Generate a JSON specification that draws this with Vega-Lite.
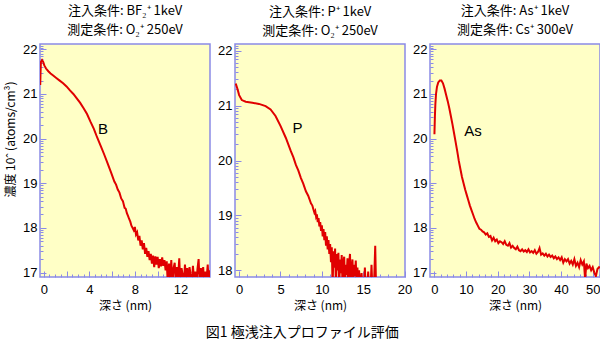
{
  "$schema": "https://vega.github.io/schema/vega-lite/v6.json",
  "background": "white",
  "padding": {"left": 3, "top": 4, "right": 2, "bottom": 6},
  "spacing": 25,
  "bounds": "flush",
  "title": {"text": "図1 極浅注入プロファイル評価", "orient": "bottom", "anchor": "middle", "font": "Noto Sans CJK JP", "fontSize": 14, "fontWeight": "normal", "color": "black", "offset": 14},
  "config": {
    "view": {"stroke": "#8a8ae6", "strokeWidth": 1.5, "fill": "#ffffc6"},
    "axis": {"domain": false, "grid": false, "labelFont": "Liberation Sans", "labelFontSize": 13, "labelColor": "black", "tickColor": "#8a8ae6", "tickWidth": 1, "titleFont": "Noto Sans CJK JP", "titleFontSize": 12, "titleFontWeight": "normal", "titleColor": "black", "labelFlush": false, "labelOverlap": false, "labelBound": false},
    "title": {"font": "Noto Sans CJK JP", "fontSize": 13, "fontWeight": "normal", "color": "black"}
  },
  "datasets": {
    "b": [
      {"x": -0.31, "y": 21.2}, {"x": -0.28, "y": 21.5}, {"x": -0.25, "y": 21.72}, {"x": -0.15, "y": 21.76}, {"x": -0.05, "y": 21.72}, {"x": 0.05, "y": 21.64}, {"x": 0.2, "y": 21.57}, {"x": 0.4, "y": 21.51}, {"x": 0.6, "y": 21.46}, {"x": 0.8, "y": 21.42}, {"x": 1.1, "y": 21.36}, {"x": 1.4, "y": 21.3}, {"x": 1.7, "y": 21.24}, {"x": 2.0, "y": 21.17}, {"x": 2.3, "y": 21.08}, {"x": 2.6, "y": 21.0}, {"x": 2.9, "y": 20.9}, {"x": 3.2, "y": 20.8}, {"x": 3.5, "y": 20.68}, {"x": 3.8, "y": 20.55}, {"x": 4.1, "y": 20.38}, {"x": 4.4, "y": 20.22}, {"x": 4.7, "y": 20.02}, {"x": 5.0, "y": 19.84}, {"x": 5.3, "y": 19.65}, {"x": 5.6, "y": 19.45}, {"x": 5.9, "y": 19.25}, {"x": 6.2, "y": 19.04}, {"x": 6.35, "y": 18.97}, {"x": 6.5, "y": 18.86}, {"x": 6.65, "y": 18.79}, {"x": 6.8, "y": 18.66}, {"x": 6.95, "y": 18.6}, {"x": 7.1, "y": 18.45}, {"x": 7.2, "y": 18.43}, {"x": 7.3, "y": 18.33}, {"x": 7.4, "y": 18.27}, {"x": 7.5, "y": 18.2}, {"x": 7.6, "y": 18.14}, {"x": 7.7, "y": 18.05}, {"x": 7.8, "y": 18.0}, {"x": 7.9, "y": 17.95}, {"x": 8.0, "y": 18.02}, {"x": 8.1, "y": 17.85}, {"x": 8.2, "y": 17.9}, {"x": 8.3, "y": 17.72}, {"x": 8.4, "y": 17.82}, {"x": 8.5, "y": 17.6}, {"x": 8.6, "y": 17.72}, {"x": 8.7, "y": 17.52}, {"x": 8.8, "y": 17.66}, {"x": 8.9, "y": 17.42}, {"x": 9.0, "y": 17.55}, {"x": 9.1, "y": 17.35}, {"x": 9.2, "y": 17.48}, {"x": 9.3, "y": 17.28}, {"x": 9.4, "y": 17.42}, {"x": 9.5, "y": 17.2}, {"x": 9.6, "y": 17.38}, {"x": 9.7, "y": 17.12}, {"x": 9.8, "y": 17.36}, {"x": 9.9, "y": 17.18}, {"x": 10.0, "y": 17.35}, {"x": 10.1, "y": 17.1}, {"x": 10.2, "y": 17.3}, {"x": 10.3, "y": 17.14}, {"x": 10.4, "y": 17.34}, {"x": 10.5, "y": 17.15}, {"x": 10.6, "y": 17.28}, {"x": 10.7, "y": 17.05}, {"x": 10.8, "y": 17.25}, {"x": 10.9, "y": 16.7}, {"x": 11.0, "y": 17.2}, {"x": 11.1, "y": 16.85}, {"x": 11.2, "y": 17.28}, {"x": 11.3, "y": 16.7}, {"x": 11.4, "y": 17.1}, {"x": 11.5, "y": 17.22}, {"x": 11.6, "y": 16.75}, {"x": 11.7, "y": 17.12}, {"x": 11.8, "y": 16.9}, {"x": 11.9, "y": 17.32}, {"x": 12.0, "y": 16.7}, {"x": 12.1, "y": 17.1}, {"x": 12.2, "y": 16.95}, {"x": 12.3, "y": 16.7}, {"x": 12.4, "y": 17.18}, {"x": 12.5, "y": 16.85}, {"x": 12.6, "y": 17.1}, {"x": 12.7, "y": 16.7}, {"x": 12.8, "y": 17.12}, {"x": 12.9, "y": 16.95}, {"x": 13.0, "y": 16.7}, {"x": 13.1, "y": 17.15}, {"x": 13.2, "y": 16.85}, {"x": 13.3, "y": 17.02}, {"x": 13.4, "y": 16.7}, {"x": 13.5, "y": 17.08}, {"x": 13.6, "y": 17.3}, {"x": 13.7, "y": 16.7}, {"x": 13.8, "y": 17.1}, {"x": 13.9, "y": 16.88}, {"x": 14.0, "y": 17.12}, {"x": 14.1, "y": 16.7}, {"x": 14.2, "y": 17.02}, {"x": 14.3, "y": 16.85}, {"x": 14.4, "y": 17.18}, {"x": 14.5, "y": 16.7}, {"x": 14.6, "y": 17.05}
    ],
    "p": [
      {"x": -0.41, "y": 21.4}, {"x": -0.2, "y": 21.3}, {"x": 0.0, "y": 21.19}, {"x": 0.32, "y": 21.1}, {"x": 0.8, "y": 21.07}, {"x": 1.6, "y": 21.05}, {"x": 2.4, "y": 21.03}, {"x": 3.2, "y": 20.99}, {"x": 3.8, "y": 20.93}, {"x": 4.4, "y": 20.81}, {"x": 5.0, "y": 20.63}, {"x": 5.65, "y": 20.41}, {"x": 6.25, "y": 20.17}, {"x": 6.55, "y": 20.06}, {"x": 6.86, "y": 19.92}, {"x": 7.15, "y": 19.82}, {"x": 7.47, "y": 19.68}, {"x": 7.75, "y": 19.58}, {"x": 8.07, "y": 19.44}, {"x": 8.35, "y": 19.36}, {"x": 8.68, "y": 19.22}, {"x": 8.85, "y": 19.18}, {"x": 9.0, "y": 19.1}, {"x": 9.1, "y": 19.05}, {"x": 9.2, "y": 19.08}, {"x": 9.3, "y": 18.98}, {"x": 9.4, "y": 19.02}, {"x": 9.5, "y": 18.88}, {"x": 9.6, "y": 18.95}, {"x": 9.7, "y": 18.8}, {"x": 9.8, "y": 18.88}, {"x": 9.9, "y": 18.72}, {"x": 10.0, "y": 18.82}, {"x": 10.1, "y": 18.62}, {"x": 10.2, "y": 18.75}, {"x": 10.3, "y": 18.55}, {"x": 10.4, "y": 18.7}, {"x": 10.5, "y": 18.45}, {"x": 10.6, "y": 18.62}, {"x": 10.7, "y": 18.38}, {"x": 10.8, "y": 18.55}, {"x": 10.9, "y": 18.3}, {"x": 11.0, "y": 18.48}, {"x": 11.1, "y": 18.15}, {"x": 11.2, "y": 18.42}, {"x": 11.3, "y": 17.7}, {"x": 11.4, "y": 18.35}, {"x": 11.5, "y": 18.05}, {"x": 11.6, "y": 18.4}, {"x": 11.7, "y": 17.7}, {"x": 11.8, "y": 18.3}, {"x": 11.9, "y": 18.0}, {"x": 12.0, "y": 18.32}, {"x": 12.1, "y": 17.7}, {"x": 12.2, "y": 18.2}, {"x": 12.3, "y": 17.95}, {"x": 12.4, "y": 18.28}, {"x": 12.5, "y": 17.7}, {"x": 12.6, "y": 18.15}, {"x": 12.7, "y": 18.25}, {"x": 12.8, "y": 17.7}, {"x": 12.9, "y": 18.1}, {"x": 13.0, "y": 17.92}, {"x": 13.1, "y": 18.22}, {"x": 13.2, "y": 17.7}, {"x": 13.3, "y": 18.12}, {"x": 13.4, "y": 18.3}, {"x": 13.5, "y": 17.7}, {"x": 13.6, "y": 18.05}, {"x": 13.7, "y": 18.2}, {"x": 13.8, "y": 17.7}, {"x": 13.9, "y": 18.1}, {"x": 14.0, "y": 17.9}, {"x": 14.1, "y": 18.18}, {"x": 14.2, "y": 17.7}, {"x": 14.3, "y": 18.05}, {"x": 14.4, "y": 17.7}, {"x": 14.5, "y": 18.0}, {"x": 14.6, "y": 17.7}, {"x": 14.8, "y": 17.95}, {"x": 14.9, "y": 17.7}, {"x": 15.1, "y": 17.7}, {"x": 15.2, "y": 18.05}, {"x": 15.3, "y": 17.7}, {"x": 15.5, "y": 17.7}, {"x": 15.6, "y": 17.98}, {"x": 15.7, "y": 17.7}, {"x": 15.9, "y": 17.7}, {"x": 16.0, "y": 18.1}, {"x": 16.1, "y": 17.7}, {"x": 16.3, "y": 17.7}, {"x": 16.45, "y": 18.45}, {"x": 16.55, "y": 17.7}
    ],
    "as": [
      {"x": 0.0, "y": 20.1}, {"x": 0.15, "y": 20.5}, {"x": 0.3, "y": 20.78}, {"x": 0.5, "y": 21.0}, {"x": 0.8, "y": 21.16}, {"x": 1.2, "y": 21.26}, {"x": 1.7, "y": 21.3}, {"x": 2.2, "y": 21.3}, {"x": 2.7, "y": 21.24}, {"x": 3.2, "y": 21.12}, {"x": 3.7, "y": 20.98}, {"x": 4.2, "y": 20.84}, {"x": 4.7, "y": 20.68}, {"x": 5.2, "y": 20.5}, {"x": 5.7, "y": 20.32}, {"x": 6.2, "y": 20.12}, {"x": 6.7, "y": 19.92}, {"x": 7.2, "y": 19.72}, {"x": 7.7, "y": 19.5}, {"x": 8.2, "y": 19.32}, {"x": 8.7, "y": 19.14}, {"x": 9.2, "y": 19.0}, {"x": 9.7, "y": 18.86}, {"x": 10.2, "y": 18.74}, {"x": 10.7, "y": 18.62}, {"x": 11.2, "y": 18.5}, {"x": 11.7, "y": 18.4}, {"x": 12.2, "y": 18.3}, {"x": 12.7, "y": 18.2}, {"x": 13.2, "y": 18.12}, {"x": 13.7, "y": 18.05}, {"x": 14.2, "y": 17.98}, {"x": 14.7, "y": 17.96}, {"x": 15.2, "y": 17.92}, {"x": 15.7, "y": 17.9}, {"x": 16.2, "y": 17.85}, {"x": 16.7, "y": 17.88}, {"x": 17.2, "y": 17.8}, {"x": 17.7, "y": 17.82}, {"x": 18.2, "y": 17.72}, {"x": 18.7, "y": 17.78}, {"x": 19.2, "y": 17.7}, {"x": 19.7, "y": 17.74}, {"x": 20.2, "y": 17.66}, {"x": 20.7, "y": 17.7}, {"x": 21.2, "y": 17.68}, {"x": 21.7, "y": 17.64}, {"x": 22.2, "y": 17.7}, {"x": 22.7, "y": 17.62}, {"x": 23.2, "y": 17.6}, {"x": 23.7, "y": 17.66}, {"x": 24.2, "y": 17.56}, {"x": 24.7, "y": 17.6}, {"x": 25.2, "y": 17.55}, {"x": 25.7, "y": 17.52}, {"x": 26.2, "y": 17.58}, {"x": 26.7, "y": 17.5}, {"x": 27.2, "y": 17.48}, {"x": 27.7, "y": 17.52}, {"x": 28.2, "y": 17.47}, {"x": 28.7, "y": 17.5}, {"x": 29.2, "y": 17.46}, {"x": 29.7, "y": 17.52}, {"x": 30.2, "y": 17.45}, {"x": 30.7, "y": 17.48}, {"x": 31.2, "y": 17.44}, {"x": 31.7, "y": 17.5}, {"x": 32.2, "y": 17.42}, {"x": 32.7, "y": 17.46}, {"x": 33.2, "y": 17.55}, {"x": 33.7, "y": 17.4}, {"x": 34.2, "y": 17.43}, {"x": 34.7, "y": 17.38}, {"x": 35.2, "y": 17.42}, {"x": 35.7, "y": 17.36}, {"x": 36.2, "y": 17.4}, {"x": 36.7, "y": 17.35}, {"x": 37.2, "y": 17.38}, {"x": 37.7, "y": 17.32}, {"x": 38.2, "y": 17.36}, {"x": 38.7, "y": 17.3}, {"x": 39.2, "y": 17.34}, {"x": 39.7, "y": 17.28}, {"x": 40.2, "y": 17.34}, {"x": 40.7, "y": 17.22}, {"x": 41.2, "y": 17.3}, {"x": 41.7, "y": 17.25}, {"x": 42.2, "y": 17.3}, {"x": 42.7, "y": 17.2}, {"x": 43.2, "y": 17.26}, {"x": 43.7, "y": 17.18}, {"x": 44.2, "y": 17.3}, {"x": 44.7, "y": 17.15}, {"x": 45.2, "y": 17.22}, {"x": 45.7, "y": 17.12}, {"x": 46.2, "y": 17.28}, {"x": 46.7, "y": 17.18}, {"x": 47.2, "y": 17.25}, {"x": 47.6, "y": 16.85}, {"x": 48.0, "y": 17.2}, {"x": 48.5, "y": 17.1}, {"x": 49.0, "y": 17.15}, {"x": 49.5, "y": 17.05}, {"x": 50.0, "y": 17.12}, {"x": 50.5, "y": 17.0}, {"x": 51.0, "y": 16.92}, {"x": 51.5, "y": 17.08}, {"x": 52.0, "y": 17.12}, {"x": 52.3, "y": 17.1}
    ]
  },
  "hconcat": [
    {
      "width": 170,
      "height": 233,
      "title": {"text": ["注入条件: BF₂⁺ 1keV", "測定条件: O₂⁺ 250eV"], "lineHeight": 19, "offset": 6},
      "resolve": {"axis": {"x": "independent", "y": "independent"}},
      "layer": [
        {
          "data": {"name": "b"},
          "mark": {"type": "line", "color": "#e00000", "strokeWidth": 2, "clip": true},
          "encoding": {
            "x": {"field": "x", "type": "quantitative", "scale": {"domain": [-0.33, 14.6], "nice": false, "zero": false},
              "axis": {"orient": "bottom", "title": "深さ (nm)", "titlePadding": 4, "values": [0, 2, 4, 6, 8, 10, 12, 14], "format": "d", "labelExpr": "datum.value % 4 === 0 ? datum.label : ''", "tickSize": -6, "labelPadding": 12, "labelOverlap": false}},
            "y": {"field": "y", "type": "quantitative", "scale": {"domain": [16.9, 22.12], "nice": false, "zero": false},
              "axis": {"orient": "left", "title": "濃度 10ˆ (atoms/cm³)", "titlePadding": 5, "titleY": 95, "values": [17, 18, 19, 20, 21, 22], "format": "d", "tickSize": -6, "labelPadding": 9, "labelOverlap": false}}
          }
        },
        {
          "data": {"values": [{"x": 5.2, "y": 20.22, "t": "B"}]},
          "mark": {"type": "text", "font": "Liberation Sans", "fontSize": 15, "color": "black"},
          "encoding": {
            "x": {"field": "x", "type": "quantitative", "axis": {"orient": "bottom", "title": null, "labels": false, "tickSize": -3, "values": [0.5,1,1.5,2.5,3,3.5,4.5,5,5.5,6.5,7,7.5,8.5,9,9.5,10.5,11,11.5,12.5,13,13.5,14.5]}},
            "y": {"field": "y", "type": "quantitative", "axis": {"orient": "left", "title": null, "labels": false, "tickSize": -3, "values": [17.301,17.477,17.602,17.699,17.778,17.845,17.903,17.954,18.301,18.477,18.602,18.699,18.778,18.845,18.903,18.954,19.301,19.477,19.602,19.699,19.778,19.845,19.903,19.954,20.301,20.477,20.602,20.699,20.778,20.845,20.903,20.954,21.301,21.477,21.602,21.699,21.778,21.845,21.903,21.954,22.041,22.079]}},
            "text": {"field": "t"}
          }
        }
      ]
    },
    {
      "width": 170,
      "height": 233,
      "title": {"text": ["注入条件: P⁺ 1keV", "測定条件: O₂⁺ 250eV"], "lineHeight": 19, "offset": 6},
      "resolve": {"axis": {"x": "independent", "y": "independent"}},
      "layer": [
        {
          "data": {"name": "p"},
          "mark": {"type": "line", "color": "#e00000", "strokeWidth": 2, "clip": true},
          "encoding": {
            "x": {"field": "x", "type": "quantitative", "scale": {"domain": [-0.5, 20.05], "nice": false, "zero": false},
              "axis": {"orient": "bottom", "title": "深さ (nm)", "titlePadding": 4, "values": [0, 5, 10, 15, 20], "format": "d", "tickSize": -6, "labelPadding": 12, "labelOverlap": false}},
            "y": {"field": "y", "type": "quantitative", "scale": {"domain": [17.88, 22.12], "nice": false, "zero": false},
              "axis": {"orient": "left", "title": null, "values": [18, 19, 20, 21, 22], "format": "d", "tickSize": -6, "labelPadding": 9, "labelOverlap": false}}
          }
        },
        {
          "data": {"values": [{"x": 7.07, "y": 20.6, "t": "P"}]},
          "mark": {"type": "text", "font": "Liberation Sans", "fontSize": 15, "color": "black"},
          "encoding": {
            "x": {"field": "x", "type": "quantitative", "axis": {"orient": "bottom", "title": null, "labels": false, "tickSize": -3, "values": [1,2,3,4,6,7,8,9,11,12,13,14,16,17,18,19]}},
            "y": {"field": "y", "type": "quantitative", "axis": {"orient": "left", "title": null, "labels": false, "tickSize": -3, "values": [18.301,18.477,18.602,18.699,18.778,18.845,18.903,18.954,19.301,19.477,19.602,19.699,19.778,19.845,19.903,19.954,20.301,20.477,20.602,20.699,20.778,20.845,20.903,20.954,21.301,21.477,21.602,21.699,21.778,21.845,21.903,21.954,22.041,22.079]}},
            "text": {"field": "t"}
          }
        }
      ]
    },
    {
      "width": 170,
      "height": 233,
      "title": {"text": ["注入条件: As⁺ 1keV", "測定条件: Cs⁺ 300eV"], "lineHeight": 19, "offset": 6},
      "resolve": {"axis": {"x": "independent", "y": "independent"}},
      "layer": [
        {
          "data": {"name": "as"},
          "mark": {"type": "line", "color": "#e00000", "strokeWidth": 2, "clip": true},
          "encoding": {
            "x": {"field": "x", "type": "quantitative", "scale": {"domain": [-1.4, 52.3], "nice": false, "zero": false},
              "axis": {"orient": "bottom", "title": "深さ (nm)", "titlePadding": 4, "values": [0, 10, 20, 30, 40, 50], "format": "d", "tickSize": -6, "labelPadding": 12, "labelOverlap": false}},
            "y": {"field": "y", "type": "quantitative", "scale": {"domain": [16.9, 22.12], "nice": false, "zero": false},
              "axis": {"orient": "left", "title": null, "values": [17, 18, 19, 20, 21, 22], "format": "d", "tickSize": -6, "labelPadding": 9, "labelOverlap": false}}
          }
        },
        {
          "data": {"values": [{"x": 12.2, "y": 20.18, "t": "As"}]},
          "mark": {"type": "text", "font": "Liberation Sans", "fontSize": 15, "color": "black"},
          "encoding": {
            "x": {"field": "x", "type": "quantitative", "axis": {"orient": "bottom", "title": null, "labels": false, "tickSize": -3, "values": [2,4,6,8,12,14,16,18,22,24,26,28,32,34,36,38,42,44,46,48,52]}},
            "y": {"field": "y", "type": "quantitative", "axis": {"orient": "left", "title": null, "labels": false, "tickSize": -3, "values": [17.301,17.477,17.602,17.699,17.778,17.845,17.903,17.954,18.301,18.477,18.602,18.699,18.778,18.845,18.903,18.954,19.301,19.477,19.602,19.699,19.778,19.845,19.903,19.954,20.301,20.477,20.602,20.699,20.778,20.845,20.903,20.954,21.301,21.477,21.602,21.699,21.778,21.845,21.903,21.954,22.041,22.079]}},
            "text": {"field": "t"}
          }
        }
      ]
    }
  ]
}
